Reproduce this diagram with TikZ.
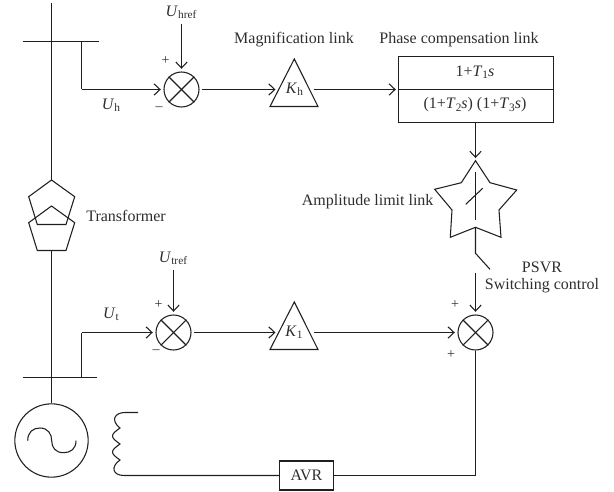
\documentclass[tikz,border=0pt]{standalone}
\usepackage{fontspec}
\setmainfont{Liberation Serif}
\usetikzlibrary{arrows.meta}
\newcommand{\lowsub}[1]{\raisebox{-0.3ex}{\fontsize{8.5}{9}\selectfont #1}}
\newcommand{\var}[1]{\textit{#1}}
\tikzset{
  x=0.75pt,y=-0.75pt,
  lbl/.style={inner sep=0pt,text=black!82,font=\fontsize{12}{14}\selectfont},
  sign/.style={inner sep=0pt,text=black!82,font=\fontsize{10.5}{11}\selectfont},
  sumnode/.style={circle,draw,minimum size=26.25pt,inner sep=0pt},
  avrbox/.style={rectangle,draw,minimum width=40pt,minimum height=21.75pt,inner sep=0pt,font=\fontsize{12}{14}\selectfont,text=black!82},
  arr/.style={-{Straight Barb[length=4.5pt,width=8.5pt,line width=0.8pt]}},
  gap/.style={shorten >=2pt}
}
\begin{document}
\begin{tikzpicture}[line width=0.8pt,color=black!88]
\useasboundingbox (0,0) rectangle (614,492);
% --- named points
\coordinate (top) at (51.5,3);
\coordinate (busAl) at (23,41.5); \coordinate (busAr) at (99,41.5);
\coordinate (tapA) at (81.5,41.5); \coordinate (cornerA) at (81.5,89.5);
\coordinate (busBl) at (23,377.5); \coordinate (busBr) at (97,377.5);
\coordinate (tapB) at (81.5,377.5); \coordinate (cornerB) at (81.5,332.5);
\coordinate (penUtop) at (51.5,180);
\coordinate (penLbot) at (51.5,250.5);
% --- transformer
\draw (51.5,180) -- (74.7,196.7) -- (66,224.5) -- (37.3,224.5) -- (28.7,196.7) -- cycle;
\draw (51.5,206) -- (74.7,222.7) -- (66,250.5) -- (37.3,250.5) -- (28.7,222.7) -- cycle;
% --- generator
\node[circle,draw,minimum size=55pt,inner sep=0pt] (gen) at (51.5,440.5) {};
\draw (27.7,440.7) .. controls (27.7,432) and (33,428) .. (40,428)
  .. controls (48,428) and (51.7,434) .. (51.7,440.7)
  .. controls (51.7,447.5) and (55.5,452.7) .. (63.5,452.7)
  .. controls (70.5,452.7) and (76,449) .. (76,440.7);
% --- buses
\draw (top) -- (penUtop);
\draw (busAl) -- (busAr);
\draw (penLbot) -- (gen.north);
\draw (busBl) -- (busBr);
% --- summing junctions
\node[sumnode] (sumA) at (181.5,89.5) {};
\node[sumnode] (sumB) at (173.5,332.5) {};
\node[sumnode] (sumC) at (475.5,332.5) {};
\foreach \s in {sumA,sumB,sumC}{
  \draw (\s.north west) -- (\s.south east);
  \draw (\s.north east) -- (\s.south west);
}
% --- gain triangles
\coordinate (kAw) at (270,106.5); \coordinate (kAe) at (318,106.5); \coordinate (kAn) at (294.3,59);
\coordinate (kBw) at (270,349.5); \coordinate (kBe) at (318,349.5); \coordinate (kBn) at (294.3,302);
\draw (kAn) -- (kAe) -- (kAw) -- cycle;
\draw (kBn) -- (kBe) -- (kBw) -- cycle;
\node[lbl] (kA) at (294.5,89) {\var{K}\lowsub{h}};
\node[lbl] (kB) at (294,332.5) {\var{K}\lowsub{1}};
\coordinate (kAin) at (275.5,89.5); \coordinate (kAout) at (313.5,89.5);
\coordinate (kBin) at (275.5,332.5); \coordinate (kBout) at (313.5,332.5);
% --- phase compensation box
\draw (398.5,56.5) rectangle (553.5,122.5);
\draw[line width=1pt] (398.5,89.5) -- (553.5,89.5);
\coordinate (boxW) at (398.5,89.5); \coordinate (boxS) at (475.5,122.5);
\node[lbl] (num) at (475,72) {1+\var{T}\lowsub{1}\var{s}};
\node[lbl] (den) at (475,105) {(1+\var{T}\lowsub{2}\var{s}) (1+\var{T}\lowsub{3}\var{s})};
% --- limiter star
\coordinate (starN) at (475.5,160.7);
\coordinate (starS) at (475.5,227.3);
\draw (starN) -- (490,182.7) -- (516.7,190) -- (499,210) -- (501,237.3) -- (starS)
  -- (450.3,237.3) -- (452,210) -- (434.7,189.3) -- (461.3,182.7) -- cycle;
\draw (475.5,172) -- (475.5,220);
\draw (465.7,204.3) -- (482.7,188.3);
% --- switch
\coordinate (swA) at (475.5,253.3); \coordinate (swB) at (490,269.3); \coordinate (swC) at (475.5,272.7);
\draw (starS) -- (swA) -- (swB);
% --- AVR and coil
\node[avrbox] (avr) at (306.5,475.5) {AVR};
\coordinate (corner) at (475.5,475.5);
\draw (sumC.south) -- (corner) -- (avr.east);
\draw (138,412.5) -- (125,412.5)
  .. controls (115,412.5) and (110,420) .. (120,428)
  .. controls (110,435) and (110,437) .. (120,444)
  .. controls (110,451) and (110,453) .. (120,460)
  .. controls (110,467) and (113,475.5) .. (124,475.5)
  -- (avr.west);
% --- connectors
\coordinate (refA) at (181.5,24); \coordinate (refB) at (173.5,270);
\draw[arr,gap] (refA) -- (sumA.north);
\draw[arr,gap] (refB) -- (sumB.north);
\draw (tapA) -- (cornerA);
\draw[arr,gap] (cornerA) -- (sumA.west);
\draw (tapB) -- (cornerB);
\draw[arr,gap] (cornerB) -- (sumB.west);
\draw[arr,shorten <=1.5pt] (sumA.east) -- (kAin);
\draw[arr,shorten <=1.5pt] (sumB.east) -- (kBin);
\draw[arr,gap] (kAout) -- (boxW);
\draw[arr,gap] (boxS) -- (starN);
\draw[arr,gap] (swC) -- (sumC.north);
\draw[arr,gap] (kBout) -- (sumC.west);
% --- labels
\node[lbl] (lUhref) at (181,12) {\var{U}\lowsub{href}};
\node[lbl] (lUtref) at (173,258) {\var{U}\lowsub{tref}};
\node[lbl] (lUh) at (111,105) {\var{U}\lowsub{h}};
\node[lbl] (lUt) at (111,314) {\var{U}\lowsub{t}};
\node[sign] (pA) at (165.5,61) {+};
\node[sign] (mA) at (159,109) {–};
\node[sign] (pB) at (158.5,305) {+};
\node[sign] (mB) at (156,352) {–};
\node[sign] (pC) at (455,305) {+};
\node[sign] (pD) at (451,355) {+};
\node[lbl] (lMag) at (294,40) {Magnification link};
\node[lbl] (lPhase) at (459,40) {Phase compensation link};
\node[lbl] (lTrans) at (126,216) {Transformer};
\node[lbl,anchor=east] (lAmp) at (434,202) {Amplitude limit link};
\node[lbl] (lPsvr) at (542,267) {PSVR};
\node[lbl] (lSw) at (542,286) {Switching control};
\end{tikzpicture}
\end{document}
